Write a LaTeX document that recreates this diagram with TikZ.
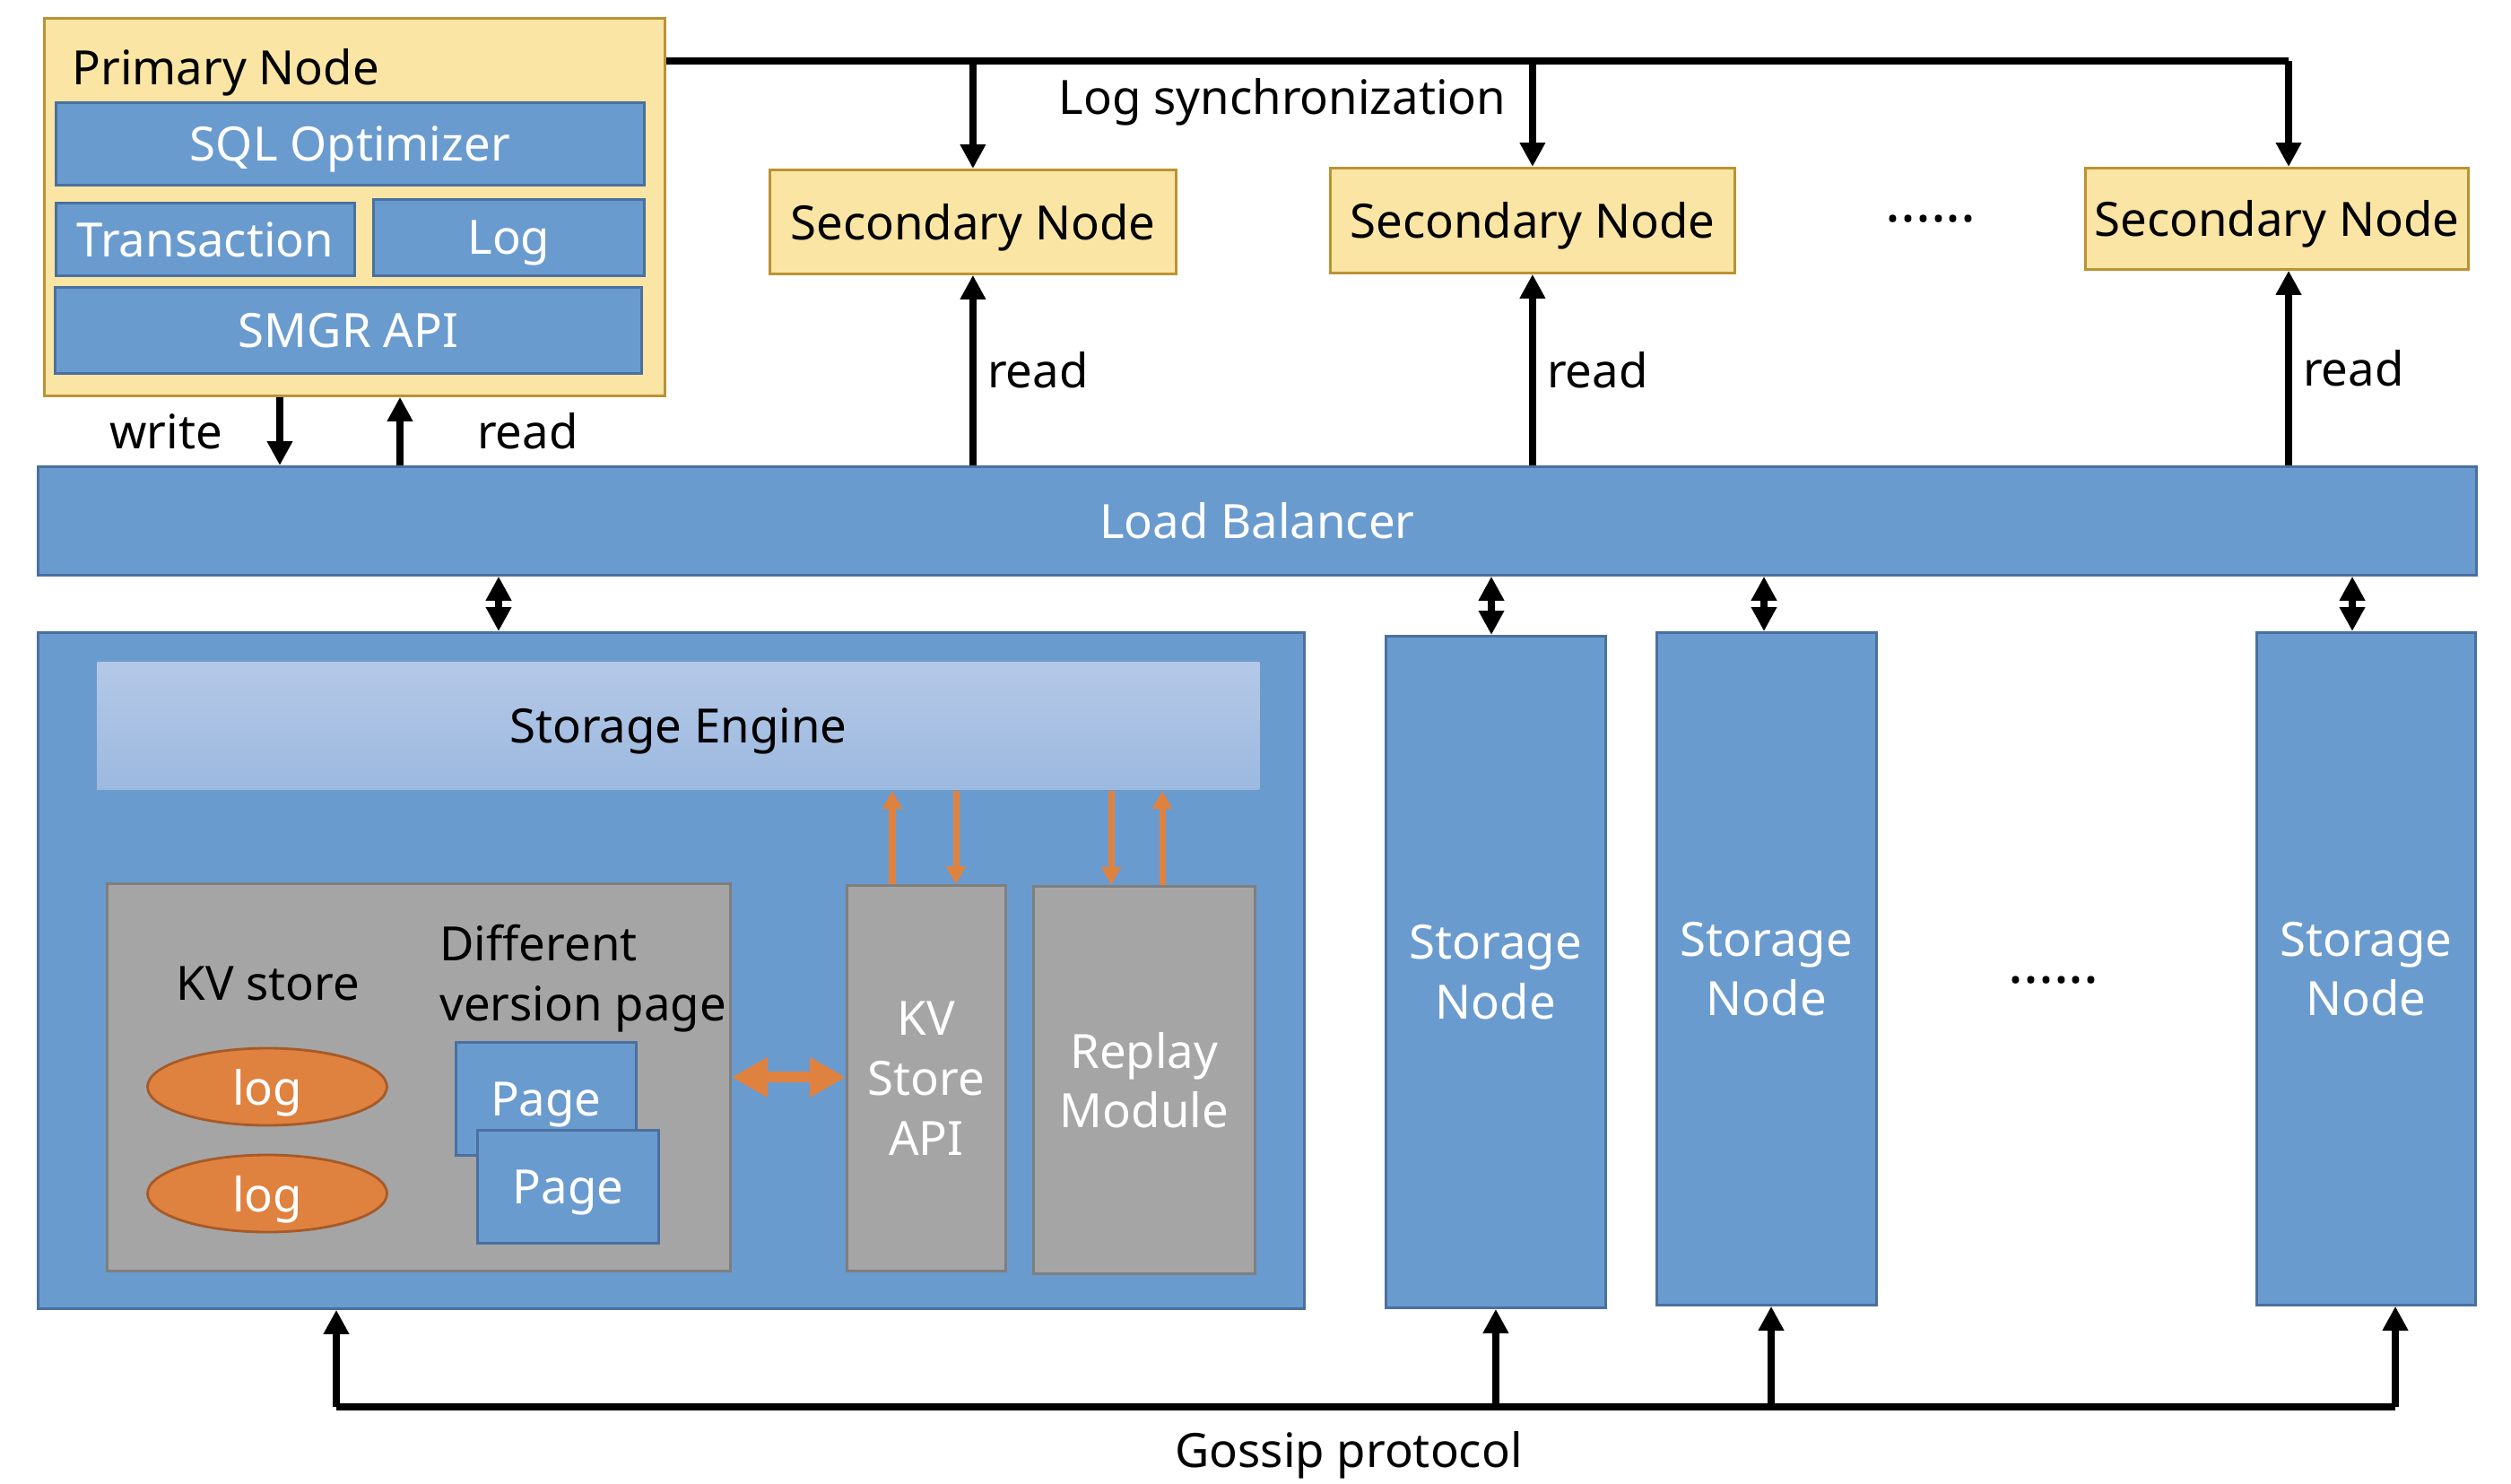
\documentclass[tikz,border=0pt]{standalone}
\usepackage{fontspec}
\setmainfont{Noto Sans}
\usetikzlibrary{arrows.meta,positioning,shapes.geometric}
\definecolor{pn-yellow}{HTML}{FAE5A4}
\definecolor{pn-gold}{HTML}{BC9233}
\definecolor{pn-blue}{HTML}{6A9BCF}
\definecolor{pn-navy}{HTML}{4A70A0}
\definecolor{pn-grey}{HTML}{A5A5A5}
\definecolor{pn-dgrey}{HTML}{7F7F7F}
\definecolor{pn-orange}{HTML}{E0823F}
\definecolor{pn-brown}{HTML}{A65A28}
\definecolor{pn-light}{HTML}{B4C8E6}
\definecolor{pn-mid}{HTML}{9CB9E0}

\begin{document}
\begin{tikzpicture}[font=\fontsize{15}{19}\selectfont,
    every node/.style={text depth=0pt},
    blk/.style={draw, line width=0.8pt, anchor=north west, inner sep=0pt, align=center},
    ybox/.style={blk, fill=pn-yellow, draw=pn-gold},
    bbox/.style={blk, fill=pn-blue, draw=pn-navy, text=white},
    gbox/.style={blk, fill=pn-grey, draw=pn-dgrey},
    arr/.style={-{Triangle[length=0.27cm,width=0.27cm]}, line width=2.5pt},
    barr/.style={{Triangle[length=0.27cm,width=0.27cm]}-{Triangle[length=0.27cm,width=0.27cm]}, line width=2.5pt},
    bus/.style={line width=2.5pt},
    oarr/.style={-{Triangle[length=0.2cm,width=0.21cm]}, line width=2pt, pn-orange},
    fat/.style={{Triangle[length=0.4cm,width=0.42cm]}-{Triangle[length=0.4cm,width=0.42cm]}, line width=0.12cm, pn-orange},
    logell/.style={ellipse, fill=pn-orange, draw=pn-brown, line width=0.8pt, text=white, minimum width=2.67cm, minimum height=0.86cm, inner sep=0pt},
    dots/.style={font=\fontsize{18}{20}\selectfont\bfseries}]
    \useasboundingbox (0,0) rectangle (28,-16.54);

    % primary node
    \node[ybox, minimum width=6.92cm, minimum height=4.21cm] (prim) at (0.48,-0.19) {};
    \node[anchor=west] (primt) at (0.68,-0.74) {Primary Node};
    \node[bbox, minimum width=6.56cm, minimum height=0.92cm] (sql) at (0.61,-1.13) {SQL Optimizer};
    \node[bbox, minimum width=3.33cm, minimum height=0.81cm] (trans) at (0.61,-2.25) {Transaction};
    \node[bbox, minimum width=3.02cm, minimum height=0.85cm] (log) at (4.15,-2.21) {Log};
    \node[bbox, minimum width=6.54cm, minimum height=0.96cm] (smgr) at (0.60,-3.19) {SMGR API};

    % secondary nodes
    \node[ybox, minimum width=4.53cm, minimum height=1.16cm] (sec1) at (8.57,-1.88) {Secondary Node};
    \node[ybox, minimum width=4.51cm, minimum height=1.17cm] (sec2) at (14.82,-1.86) {Secondary Node};
    \node[ybox, minimum width=4.27cm, minimum height=1.13cm] (sec3) at (23.24,-1.86) {Secondary Node};
    \node[dots] (dots1) at (21.53,-2.44) {......};

    \node[bbox, minimum width=27.19cm, minimum height=1.21cm] (lb) at (0.41,-5.19) {Load Balancer};

    % log synchronization
    \coordinate (sy) at (25.52,-0.68);
    \draw[bus] (prim.east |- sy) -- (sy);
    \node (synct) at (14.30,-1.07) {Log synchronization};
    \draw[arr] (sec1.north |- sy) -- (sec1.north);
    \draw[arr] (sec2.north |- sy) -- (sec2.north);
    \draw[arr] (sy) -- (sy |- sec3.north);

    \draw[arr] (prim.south -| 3.12,0) -- (lb.north -| 3.12,0) node[midway, left=4.8mm] {write};
    \draw[arr] (lb.north -| 4.46,0) -- (prim.south -| 4.46,0) node[midway, right=7mm] {read};
    \draw[arr] (lb.north -| sec1.south) -- (sec1.south) node[midway, right] {read};
    \draw[arr] (lb.north -| sec2.south) -- (sec2.south) node[midway, right] {read};
    \draw[arr] (lb.north -| sy) -- (sy |- sec3.south) node[midway, right] {read};

    % storage
    \node[bbox, minimum width=14.12cm, minimum height=7.54cm] (sbox) at (0.41,-7.04) {};
    \node[blk, draw=none, top color=pn-light, bottom color=pn-mid, minimum width=12.96cm, minimum height=1.42cm] (eng) at (1.07,-7.37) {Storage Engine};
    \node[gbox, minimum width=6.95cm, minimum height=4.32cm] (kvs) at (1.18,-9.84) {};
    \node (kvst) at (2.99,-10.97) {KV store};
    \node[anchor=west, align=left] (diff) at (4.78,-10.85) {Different\\version page};
    \node[logell] (log1) at (2.98,-12.12) {log};
    \node[logell] (log2) at (2.98,-13.31) {log};
    \node[bbox, minimum width=2.01cm, minimum height=1.26cm] (page1) at (5.07,-11.61) {Page};
    \node[bbox, minimum width=2.02cm, minimum height=1.26cm] (page2) at (5.31,-12.59) {Page};
    \node[gbox, text=white, minimum width=1.77cm, minimum height=4.30cm] (api) at (9.43,-9.86) {KV\\Store\\API};
    \node[gbox, text=white, minimum width=2.47cm, minimum height=4.32cm] (replay) at (11.51,-9.87) {Replay\\Module};

    \draw[fat] (kvs.east) -- (kvs.east -| api.west);
    \draw[oarr] (api.north -| 9.95,0) -- (eng.south -| 9.95,0);
    \draw[oarr] (eng.south -| 10.66,0) -- (api.north -| 10.66,0);
    \draw[oarr] (eng.south -| 12.39,0) -- (replay.north -| 12.39,0);
    \draw[oarr] (replay.north -| 12.96,0) -- (eng.south -| 12.96,0);

    \node[bbox, minimum width=2.45cm, minimum height=7.49cm] (sn1) at (15.44,-7.08) {Storage\\Node};
    \node[bbox, minimum width=2.45cm, minimum height=7.50cm] (sn2) at (18.46,-7.04) {Storage\\Node};
    \node[bbox, minimum width=2.44cm, minimum height=7.50cm] (sn3) at (25.15,-7.04) {Storage\\Node};
    \node[dots] (dots2) at (22.90,-10.93) {......};

    \draw[barr] (lb.south -| 5.56,0) -- (sbox.north -| 5.56,0);
    \draw[barr] (lb.south -| 16.63,0) -- (sn1.north -| 16.63,0);
    \draw[barr] (lb.south -| 19.67,0) -- (sn2.north -| 19.67,0);
    \draw[barr] (lb.south -| 26.23,0) -- (sn3.north -| 26.23,0);

    % gossip protocol
    \coordinate (gl) at (3.75,-15.69);
    \coordinate (gr) at (26.71,-15.69);
    \draw[bus] (gl) -- (gr);
    \draw[arr] (gl) -- (gl |- sbox.south);
    \draw[arr] (sn1.south |- gl) -- (sn1.south);
    \draw[arr] (gl -| 19.75,0) -- (sn2.south -| 19.75,0);
    \draw[arr] (gr) -- (gr |- sn3.south);
    \node (gossip) at (15.04,-16.16) {Gossip protocol};
\end{tikzpicture}
\end{document}
